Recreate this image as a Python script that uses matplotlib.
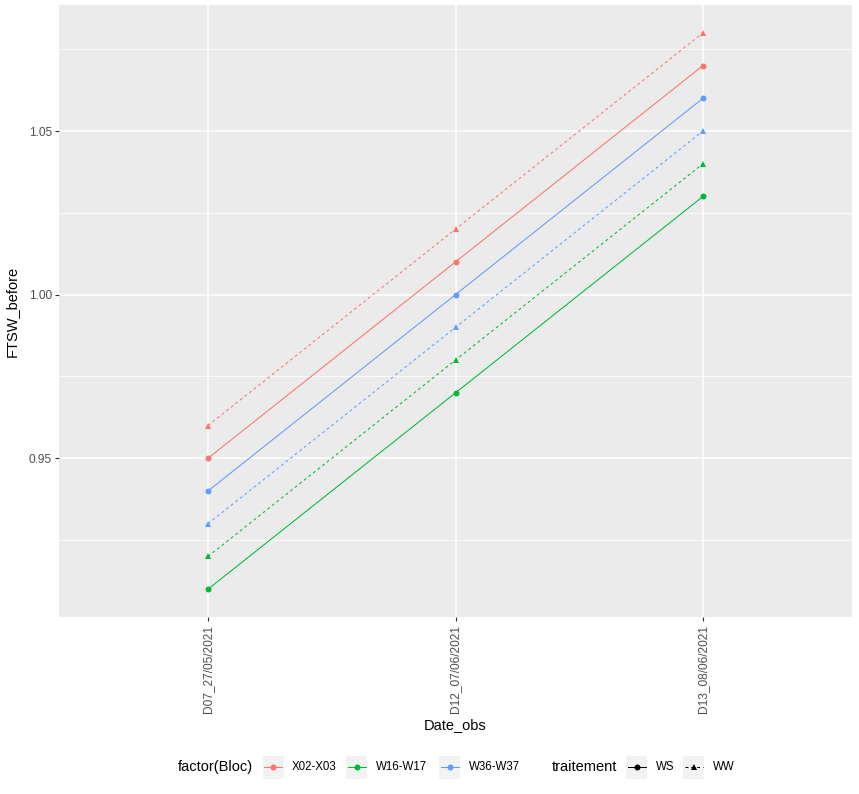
import matplotlib.pyplot as plt
from matplotlib.lines import Line2D
from matplotlib.patches import Rectangle

plt.rcParams['font.family'] = ['Liberation Sans', 'DejaVu Sans']

# data
dates = ['D07_27/05/2021', 'D12_07/06/2021', 'D13_08/06/2021']
blocs = ['X02-X03', 'W16-W17', 'W36-W37']
traitements = ['WS', 'WW']
colors = ['#F8766D', '#00BA38', '#619CFF']

ftsw_ws = {
    'X02-X03': [0.95, 1.01, 1.07],
    'W16-W17': [0.91, 0.97, 1.03],
    'W36-W37': [0.94, 1.00, 1.06],
}
ftsw_ww = {
    'X02-X03': [0.96, 1.02, 1.08],
    'W16-W17': [0.92, 0.98, 1.04],
    'W36-W37': [0.93, 0.99, 1.05],
}

# linestyle, marker, markersize
styles = {'WS': ('-', 'o', 4.3), 'WW': ((0, (2.8, 2.8)), '^', 4.8)}
LW = 0.75

W, H = 859, 794
fig = plt.figure(figsize=(W / 100, H / 100), dpi=100)
ax = fig.add_axes([59.5 / W, (H - 617) / H, (851.5 - 59.5) / W, (617 - 5) / H])
ax.set_facecolor('#EBEBEB')

x = list(range(1, len(dates) + 1))
for bloc, col in zip(blocs, colors):
    for tr, data in (('WS', ftsw_ws), ('WW', ftsw_ww)):
        ls, mk, ms = styles[tr]
        ax.plot(x, data[bloc], color=col, linestyle=ls, linewidth=LW,
                marker=mk, markersize=ms, markeredgewidth=0, zorder=3)

ax.set_xlim(0.4, 3.6)
ax.set_ylim(0.9015, 1.0885)
ax.set_xticks(x)
ax.set_xticklabels(dates, rotation=90)
ax.set_yticks([0.95, 1.00, 1.05])
ax.set_yticklabels(['0.95', '1.00', '1.05'])
ax.set_yticks([0.925, 0.975, 1.025, 1.075], minor=True)
ax.grid(which='major', color='white', linewidth=1.1)
ax.grid(which='minor', axis='y', color='white', linewidth=0.55)
ax.set_axisbelow(True)
for s in ax.spines.values():
    s.set_visible(False)
ax.tick_params(which='major', length=3, width=0.8, color='#333333',
               labelcolor='#4D4D4D', labelsize=8.6, pad=2.5)
ax.tick_params(which='minor', length=0)
ax.set_xlabel('Date_obs', fontsize=10.5, labelpad=4)
ax.set_ylabel('FTSW_before', fontsize=10.5, labelpad=7)

# legend drawn at the bottom, in pixel coordinates
lg = fig.add_axes([0, 0, 1, 1])
lg.set_xlim(0, W)
lg.set_ylim(H, 0)
lg.axis('off')
cy = 767
fs = 8.3
kw = 21


def key(bx, col, ls, mk, ms):
    lg.add_patch(Rectangle((bx, cy - 11.5), kw, 23, facecolor='#F2F2F2', edgecolor='none'))
    lg.add_line(Line2D([bx + 1.5, bx + kw - 1.5], [cy, cy], color=col,
                       linewidth=LW, linestyle=ls))
    lg.plot([bx + kw / 2], [cy], marker=mk, color=col, markersize=ms, markeredgewidth=0)


lg.text(178, cy, 'factor(Bloc)', fontsize=10.5, va='center', ha='left')
for bx, bloc, col in zip([262.5, 346, 439], blocs, colors):
    key(bx, col, '-', 'o', styles['WS'][2])
    lg.text(bx + 29.5, cy, bloc, fontsize=fs, va='center', ha='left')
lg.text(552, cy, 'traitement', fontsize=10.5, va='center', ha='left')
for bx, tr in zip([626, 683], traitements):
    ls, mk, ms = styles[tr]
    key(bx, 'black', ls, mk, ms)
    lg.text(bx + 29.5, cy, tr, fontsize=fs, va='center', ha='left')

fig.savefig('out.png', dpi=100)
